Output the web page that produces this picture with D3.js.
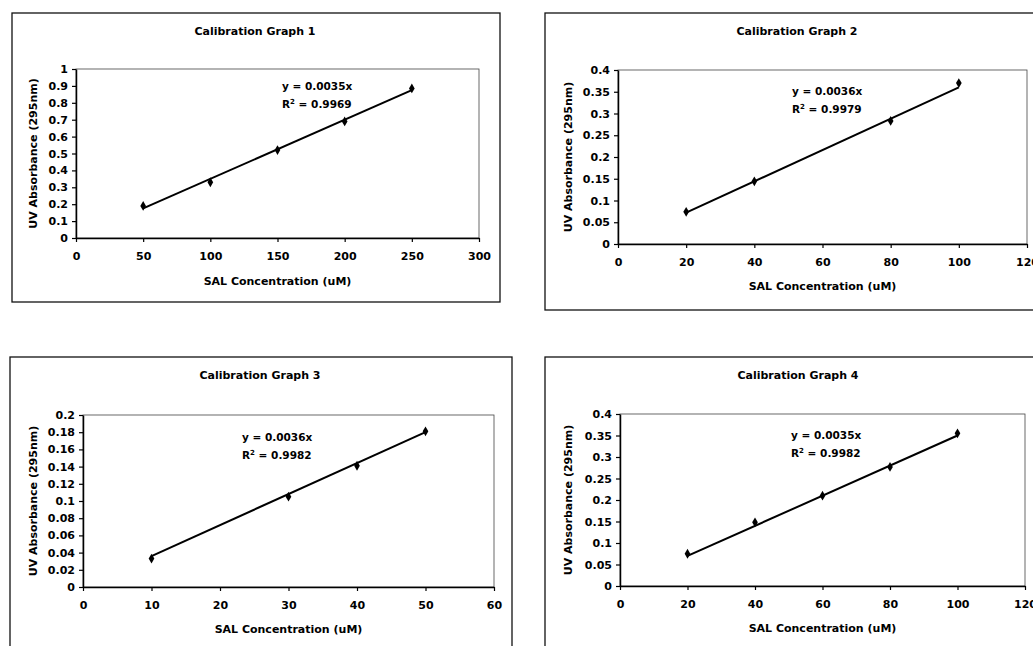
<!DOCTYPE html>
<html>
<head>
<meta charset="utf-8">
<script src="https://cdn.jsdelivr.net/npm/d3@7"></script>
<style>
  body { margin: 0; background: #fff; }
  text { font-family: "DejaVu Sans", "Liberation Sans", Arial, sans-serif; font-weight: bold; fill: #000; }
</style>
</head>
<body>
<svg id="chart" width="1033" height="646"></svg>
<script>
// Data
const titles = ["Calibration Graph 1", "Calibration Graph 2", "Calibration Graph 3", "Calibration Graph 4"];
const conc1 = [50, 100, 150, 200, 250];
const abs1 = [0.19, 0.33, 0.52, 0.69, 0.885];
const conc2 = [20, 40, 80, 100];
const abs2 = [0.074, 0.144, 0.283, 0.37];
const conc3 = [10, 30, 40, 50];
const abs3 = [0.033, 0.105, 0.141, 0.181];
const conc4 = [20, 40, 60, 80, 100];
const abs4 = [0.075, 0.148, 0.21, 0.277, 0.355];
const slopes = [0.0035, 0.0036, 0.0036, 0.0035];
const r2 = ["0.9969", "0.9979", "0.9982", "0.9982"];
const xMax = [300, 120, 60, 120];
const xStep = [50, 20, 10, 20];
const yMax = [1, 0.4, 0.2, 0.4];
const yStep = [0.1, 0.05, 0.02, 0.05];

const xTitle = "SAL Concentration (uM)";
const yTitle = "UV Absorbance (295nm)";

// Layout of each panel (box + plot area), in page pixels
const layout = [
  { box: [12, 13, 500, 302], plot: [76, 69, 479, 238], eq: [282, 90], ylab: 33, xlabY: 285, titleX: 255 },
  { box: [545, 13, 1045, 310], plot: [618, 70, 1027, 244], eq: [792, 95], ylab: 568, xlabY: 290, titleX: 797 },
  { box: [10, 357, 512, 660], plot: [83, 415, 494, 587], eq: [242, 441], ylab: 33, xlabY: 633, titleX: 260 },
  { box: [545, 357, 1045, 660], plot: [620, 414, 1025, 586], eq: [791, 439], ylab: 568, xlabY: 632, titleX: 798 }
];

const series = [[conc1, abs1], [conc2, abs2], [conc3, abs3], [conc4, abs4]];
const fmt = v => String(+v.toFixed(4));

const svg = d3.select("#chart");

layout.forEach((L, i) => {
  const [bx0, by0, bx1, by1] = L.box;
  const [px0, py0, px1, py1] = L.plot;
  const g = svg.append("g");

  // outer chart box
  g.append("rect")
    .attr("x", bx0).attr("y", by0)
    .attr("width", bx1 - bx0).attr("height", by1 - by0)
    .attr("fill", "#fff").attr("stroke", "#111").attr("stroke-width", 1.3);

  g.append("text")
    .attr("x", L.titleX)
    .attr("y", by0 + 22)
    .attr("text-anchor", "middle")
    .attr("font-size", 11)
    .text(titles[i]);

  const x = d3.scaleLinear().domain([0, xMax[i]]).range([px0, px1]);
  const y = d3.scaleLinear().domain([0, yMax[i]]).range([py1, py0]);

  // plot area border
  g.append("rect")
    .attr("x", px0).attr("y", py0)
    .attr("width", px1 - px0).attr("height", py1 - py0)
    .attr("fill", "none").attr("stroke", "#444").attr("stroke-width", 0.8);

  const xTicks = d3.range(0, xMax[i] + xStep[i] / 2, xStep[i]);
  const yTicks = d3.range(0, yMax[i] + yStep[i] / 2, yStep[i]);

  const xAxis = g.append("g")
    .attr("transform", `translate(0,${py1})`)
    .call(d3.axisBottom(x).tickValues(xTicks).tickFormat(fmt).tickSize(4).tickSizeOuter(0).tickPadding(10));
  const yAxis = g.append("g")
    .attr("transform", `translate(${px0},0)`)
    .call(d3.axisLeft(y).tickValues(yTicks).tickFormat(fmt).tickSize(4).tickSizeOuter(0).tickPadding(4));

  [xAxis, yAxis].forEach(ax => {
    ax.select(".domain").attr("stroke", "#000").attr("stroke-width", 1.5);
    ax.selectAll(".tick line").attr("stroke", "#000").attr("stroke-width", 1.2);
    ax.selectAll("text").attr("font-size", 11).attr("fill", "#000")
      .attr("font-family", "'DejaVu Sans', 'Liberation Sans', Arial, sans-serif").attr("font-weight", "bold");
  });

  g.append("text")
    .attr("x", (px0 + px1) / 2)
    .attr("y", L.xlabY)
    .attr("text-anchor", "middle")
    .attr("font-size", 11)
    .text(xTitle);

  g.append("text")
    .attr("transform", `translate(${L.ylab},${(py0 + py1) / 2}) rotate(-90)`)
    .attr("text-anchor", "middle")
    .attr("dy", "0.35em")
    .attr("font-size", 11)
    .text(yTitle);

  const [cx, cy] = series[i];

  // linear trendline through origin
  const xs = d3.extent(cx);
  g.append("line")
    .attr("x1", x(xs[0])).attr("y1", y(slopes[i] * xs[0]))
    .attr("x2", x(xs[1])).attr("y2", y(slopes[i] * xs[1]))
    .attr("stroke", "#000").attr("stroke-width", 2);

  g.selectAll(".pt")
    .data(cx)
    .enter()
    .append("path")
    .attr("d", d3.symbol(d3.symbolDiamond, 28))
    .attr("transform", (d, j) => `translate(${x(d)},${y(cy[j])})`)
    .attr("fill", "#000");

  // equation label
  const eq = g.append("text").attr("x", L.eq[0]).attr("y", L.eq[1]).attr("font-size", 10.5);
  eq.append("tspan").text(`y = ${slopes[i]}x`);
  const r = g.append("text").attr("x", L.eq[0]).attr("y", L.eq[1] + 18).attr("font-size", 10.5);
  r.append("tspan").text("R");
  r.append("tspan").attr("dy", -4).attr("font-size", 7).text("2");
  r.append("tspan").attr("dy", 4).text(` = ${r2[i]}`);
});
</script>
</body>
</html>
